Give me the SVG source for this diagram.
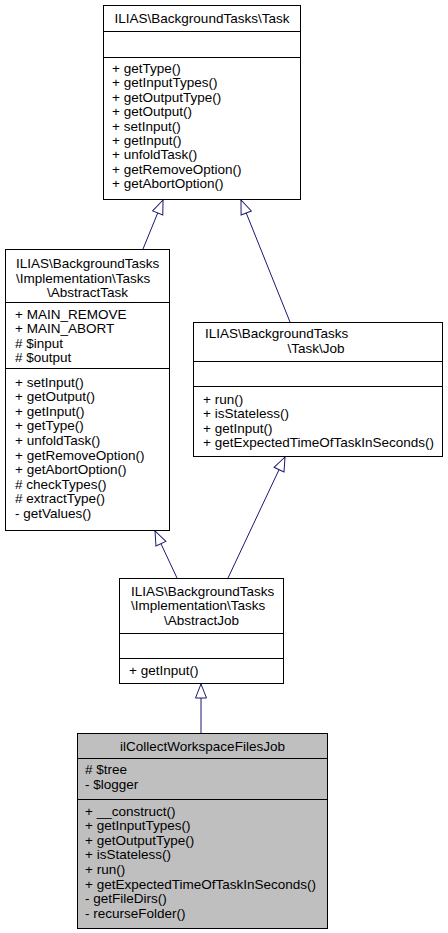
<svg xmlns="http://www.w3.org/2000/svg" width="448" height="933" viewBox="0 0 448 933">
<style>
text{font-family:"Liberation Sans",Arial,Helvetica,sans-serif;font-size:13.5px;fill:#000}
.c{text-anchor:middle}
.box{fill:#fff;stroke:#000;stroke-width:1}
.hl{fill:#bfbfbf;stroke:#000;stroke-width:1}
.sep{stroke:#000;stroke-width:1}
.edge{stroke:#191970;stroke-width:1;fill:none}
</style>
<defs>
<marker id="tri" viewBox="-16 -8 18 16" refX="0" refY="0" markerWidth="18" markerHeight="16" markerUnits="userSpaceOnUse" orient="auto">
<path d="M0,0 L-14,-5.5 L-14,5.5 Z" fill="#fff" stroke="#191970" stroke-width="1"/>
</marker>
</defs>
<g id="connectors">
<line class="edge" x1="143" y1="249" x2="163" y2="200" marker-end="url(#tri)"/>
<line class="edge" x1="290" y1="322" x2="241" y2="200" marker-end="url(#tri)"/>
<line class="edge" x1="177" y1="578" x2="155" y2="531" marker-end="url(#tri)"/>
<line class="edge" x1="228" y1="578" x2="285" y2="457" marker-end="url(#tri)"/>
<line class="edge" x1="201" y1="733" x2="201" y2="684" marker-end="url(#tri)"/>
</g>
<g id="Task">
<rect class="box" x="103.5" y="5.5" width="197" height="194"/>
<line class="sep" x1="103.5" y1="31.5" x2="300.5" y2="31.5"/>
<line class="sep" x1="103.5" y1="57.5" x2="300.5" y2="57.5"/>
<text class="c" x="202" y="23">ILIAS\BackgroundTasks\Task</text>
<text x="112" y="73">+ getType()</text>
<text x="112" y="87.4">+ getInputTypes()</text>
<text x="112" y="101.8">+ getOutputType()</text>
<text x="112" y="116.2">+ getOutput()</text>
<text x="112" y="130.6">+ setInput()</text>
<text x="112" y="145">+ getInput()</text>
<text x="112" y="159.4">+ unfoldTask()</text>
<text x="112" y="173.8">+ getRemoveOption()</text>
<text x="112" y="188.2">+ getAbortOption()</text>
</g>
<g id="AbstractTask">
<rect class="box" x="5.5" y="249.5" width="164" height="281"/>
<line class="sep" x1="5.5" y1="302.5" x2="169.5" y2="302.5"/>
<line class="sep" x1="5.5" y1="368.5" x2="169.5" y2="368.5"/>
<text x="16" y="268">ILIAS\BackgroundTasks</text>
<text x="16" y="282.5">\Implementation\Tasks</text>
<text class="c" x="87.5" y="297">\AbstractTask</text>
<text x="15" y="318.5">+ MAIN_REMOVE</text>
<text x="15" y="333">+ MAIN_ABORT</text>
<text x="15" y="347.5"># $input</text>
<text x="15" y="362"># $output</text>
<text x="15" y="386.5">+ setInput()</text>
<text x="15" y="401.1">+ getOutput()</text>
<text x="15" y="415.7">+ getInput()</text>
<text x="15" y="430.3">+ getType()</text>
<text x="15" y="444.9">+ unfoldTask()</text>
<text x="15" y="459.5">+ getRemoveOption()</text>
<text x="15" y="474.1">+ getAbortOption()</text>
<text x="15" y="488.7"># checkTypes()</text>
<text x="15" y="503.3"># extractType()</text>
<text x="15" y="517.9">- getValues()</text>
</g>
<g id="Job">
<rect class="box" x="193.5" y="322.5" width="249" height="134"/>
<line class="sep" x1="193.5" y1="361.5" x2="442.5" y2="361.5"/>
<line class="sep" x1="193.5" y1="386.5" x2="442.5" y2="386.5"/>
<text x="205" y="338">ILIAS\BackgroundTasks</text>
<text class="c" x="316" y="352.5">\Task\Job</text>
<text x="203" y="404">+ run()</text>
<text x="203" y="418.3">+ isStateless()</text>
<text x="203" y="432.6">+ getInput()</text>
<text x="203" y="446.9">+ getExpectedTimeOfTaskInSeconds()</text>
</g>
<g id="AbstractJob">
<rect class="box" x="119.5" y="578.5" width="164" height="105"/>
<line class="sep" x1="119.5" y1="633.5" x2="283.5" y2="633.5"/>
<line class="sep" x1="119.5" y1="658.5" x2="283.5" y2="658.5"/>
<text x="131" y="596">ILIAS\BackgroundTasks</text>
<text x="131" y="610">\Implementation\Tasks</text>
<text class="c" x="201.5" y="624.5">\AbstractJob</text>
<text x="129" y="675">+ getInput()</text>
</g>
<g id="ilCollectWorkspaceFilesJob">
<rect class="hl" x="77.5" y="733.5" width="250" height="195"/>
<line class="sep" x1="77.5" y1="758.5" x2="327.5" y2="758.5"/>
<line class="sep" x1="77.5" y1="799.5" x2="327.5" y2="799.5"/>
<text class="c" x="202.5" y="751">ilCollectWorkspaceFilesJob</text>
<text x="85" y="774"># $tree</text>
<text x="85" y="788.5">- $logger</text>
<text x="85" y="815.5">+ __construct()</text>
<text x="85" y="830.1">+ getInputTypes()</text>
<text x="85" y="844.7">+ getOutputType()</text>
<text x="85" y="859.3">+ isStateless()</text>
<text x="85" y="873.9">+ run()</text>
<text x="85" y="888.5">+ getExpectedTimeOfTaskInSeconds()</text>
<text x="85" y="903.1">- getFileDirs()</text>
<text x="85" y="917.7">- recurseFolder()</text>
</g>
</svg>
